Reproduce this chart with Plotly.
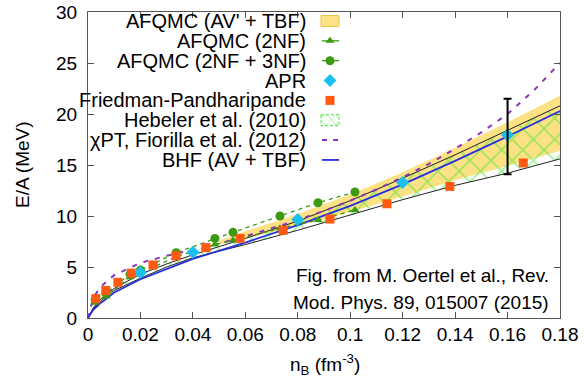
import plotly.graph_objects as go

# ---------------- data ----------------
# AFQMC (AV' + TBF) band
n_band = [0.05, 0.06, 0.08, 0.10, 0.12, 0.14, 0.16, 0.18]
E_band_low = [7.2, 7.8, 9.0, 10.4, 11.9, 13.5, 14.9, 16.4]
E_band_high = [7.6, 8.5, 10.2, 12.1, 14.3, 16.7, 19.2, 21.8]

# Hebeler et al. (2010) band
n_heb = [0, 0.002, 0.005, 0.01, 0.02, 0.03, 0.04, 0.06, 0.08, 0.10, 0.12, 0.14, 0.16, 0.18]
E_heb_low = [0, 0.9, 1.7, 2.7, 3.9, 5.0, 5.9, 7.2, 8.6, 10.1, 11.6, 13.0, 14.2, 15.6]
E_heb_high = [0, 1.0, 1.9, 2.9, 4.3, 5.3, 6.2, 7.8, 9.5, 11.5, 13.7, 16.0, 18.4, 20.8]

# chiPT, Fiorilla et al. (2012)
n_chipt = [0, 0.002, 0.005, 0.01, 0.02, 0.03, 0.04, 0.05, 0.06, 0.07, 0.08, 0.09,
           0.10, 0.11, 0.12, 0.13, 0.14, 0.15, 0.16, 0.17, 0.18]
E_chipt = [0, 2.0, 3.1, 4.2, 5.4, 6.1, 6.7, 7.3, 8.0, 8.8, 9.6, 10.5,
           11.5, 12.6, 13.8, 15.1, 16.6, 18.2, 20.0, 22.3, 25.0]

# BHF (AV + TBF)
n_bhf = [0, 0.002, 0.005, 0.01, 0.02, 0.03, 0.04, 0.06, 0.08, 0.10, 0.12, 0.14, 0.16, 0.18]
E_bhf = [0, 0.8, 1.5, 2.5, 3.8, 4.8, 5.8, 7.4, 9.1, 11.0, 13.1, 15.4, 17.8, 20.3]

# AFQMC (2NF) and AFQMC (2NF + 3NF)
n_afqmc = [0.0027, 0.0069, 0.016, 0.020, 0.0336, 0.0484, 0.0553, 0.0732, 0.0877, 0.1018]
E_2nf = [1.5, 2.1, 4.0, 4.4, 6.0, 7.2, 7.6, 8.8, 9.6, 10.6]
E_3nf = [1.8, 2.4, 4.3, 4.7, 6.4, 7.8, 8.4, 10.0, 11.3, 12.35]

# APR
n_apr = [0.02, 0.04, 0.08, 0.12, 0.16]
E_apr = [4.45, 6.45, 9.65, 13.29, 17.94]

# Friedman-Pandharipande
n_fp = [0.003, 0.0068, 0.0114, 0.0165, 0.0248, 0.0336, 0.045, 0.058, 0.0744, 0.0923, 0.114, 0.138, 0.166]
E_fp = [1.9, 2.7, 3.5, 4.4, 5.2, 6.1, 6.9, 7.8, 8.6, 9.7, 11.2, 12.9, 15.2]

# error bar at saturation density
n_err = [0.16]
E_err_low = [14.1]
E_err_high = [21.5]

legend_labels = ["AFQMC (AV' + TBF)", "AFQMC (2NF)", "AFQMC (2NF + 3NF)", "APR",
                 "Friedman-Pandharipande", "Hebeler et al. (2010)",
                 "χPT, Fiorilla et al. (2012)", "BHF (AV + TBF)"]

x_ticks = [0, 0.02, 0.04, 0.06, 0.08, 0.1, 0.12, 0.14, 0.16, 0.18]
x_ticklabels = ["0", "0.02", "0.04", "0.06", "0.08", "0.1", "0.12", "0.14", "0.16", "0.18"]
y_ticks = [0, 5, 10, 15, 20, 25, 30]

# ---------------- styling / layout ----------------
FONT = "Liberation Sans, Arial, Helvetica, sans-serif"
FS = 19
FS_LEG = 20
W, H = 584, 384
ML, MR, MT, MB = 88, 24, 12, 66
PW, PH = W - ML - MR, H - MT - MB

def fx(px):                   # reference-pixel x -> plot fraction
    return (px - ML) / PW

def fy(py):                   # reference-pixel y -> plot fraction
    return (H - MB - py) / PH

GREEN = "#3c9a12"
CYAN = "#1cc0f0"
ORANGE = "#ff5a10"
HATCH = "#3de62e"
PURPLE = "#8a35b8"
BLUE = "#2630e0"
YELLOW = "rgba(252,224,125,0.95)"
YELLOW_EDGE = "#e8c44a"

fig = go.Figure()

# AFQMC AV'+TBF band
fig.add_trace(go.Scatter(x=n_band, y=E_band_low, mode="lines", line=dict(width=0),
                         showlegend=False, hoverinfo="skip"))
fig.add_trace(go.Scatter(x=n_band, y=E_band_high, mode="lines", line=dict(width=0),
                         fill="tonexty", fillcolor=YELLOW, showlegend=False))

# Hebeler band (hatched) with black boundaries
fig.add_trace(go.Scatter(x=n_heb, y=E_heb_low, mode="lines",
                         line=dict(color="#222222", width=1), showlegend=False))
fig.add_trace(go.Scatter(x=n_heb, y=E_heb_high, mode="lines",
                         line=dict(color="#222222", width=1), fill="tonexty",
                         fillcolor="rgba(0,0,0,0)",
                         fillpattern=dict(shape="x", fgcolor=HATCH, bgcolor="rgba(0,0,0,0)",
                                          size=15, solidity=0.2),
                         showlegend=False))

# chiPT
fig.add_trace(go.Scatter(x=n_chipt, y=E_chipt, mode="lines",
                         line=dict(color=PURPLE, width=2, dash="5px,7px"), showlegend=False))
# BHF
fig.add_trace(go.Scatter(x=n_bhf, y=E_bhf, mode="lines",
                         line=dict(color=BLUE, width=1.8), showlegend=False))

# AFQMC 2NF and 2NF+3NF
fig.add_trace(go.Scatter(x=n_afqmc, y=E_2nf, mode="lines+markers",
                         line=dict(color=GREEN, width=1.3, dash="4px,4px"),
                         marker=dict(symbol="triangle-up", size=8, color=GREEN),
                         showlegend=False))
fig.add_trace(go.Scatter(x=n_afqmc, y=E_3nf, mode="lines+markers",
                         line=dict(color=GREEN, width=1.3, dash="4px,4px"),
                         marker=dict(symbol="circle", size=9, color=GREEN),
                         showlegend=False))

# APR
fig.add_trace(go.Scatter(x=n_apr, y=E_apr, mode="markers",
                         marker=dict(symbol="diamond", size=10, color=CYAN), showlegend=False))
# FP
fig.add_trace(go.Scatter(x=n_fp, y=E_fp, mode="markers",
                         marker=dict(symbol="square", size=9, color=ORANGE), showlegend=False))

# error bar
err_mid = [(a + b) / 2 for a, b in zip(E_err_low, E_err_high)]
err_half = [(b - a) / 2 for a, b in zip(E_err_low, E_err_high)]
fig.add_trace(go.Scatter(x=n_err, y=err_mid, mode="markers",
                         marker=dict(size=1, color="rgba(0,0,0,0)"),
                         error_y=dict(type="data", array=err_half, color="black",
                                      thickness=2, width=4),
                         showlegend=False))

# ---------------- custom legend (text left, key right) ----------------
rows = [21 + 19.85 * i for i in range(len(legend_labels))]
KX0, KXC, KX1 = 322, 330, 338
ov = dict(xaxis="x2", yaxis="y2", showlegend=False, hoverinfo="skip")

def key_line(r, color, width, dash="solid"):
    fig.add_trace(go.Scatter(x=[fx(KX0), fx(KX1 + 1)], y=[fy(r), fy(r)], mode="lines",
                             line=dict(color=color, width=width, dash=dash), **ov))

def key_marker(r, symbol, size, color):
    fig.add_trace(go.Scatter(x=[fx(KXC)], y=[fy(r)], mode="markers",
                             marker=dict(symbol=symbol, size=size, color=color), **ov))

def key_box(r, **kw):
    x0, x1, h = fx(KX0 - 1), fx(KX1 + 1), 5.5
    fig.add_trace(go.Scatter(x=[x0, x1, x1, x0, x0],
                             y=[fy(r - h), fy(r - h), fy(r + h), fy(r + h), fy(r - h)],
                             mode="lines", fill="toself", **kw, **ov))

key_box(rows[0], fillcolor=YELLOW, line=dict(color=YELLOW_EDGE, width=1))
key_line(rows[1], GREEN, 1.3)
key_marker(rows[1], "triangle-up", 8, GREEN)
key_line(rows[2], GREEN, 1.3)
key_marker(rows[2], "circle", 9, GREEN)
key_marker(rows[3], "diamond", 10, CYAN)
key_marker(rows[4], "square", 9, ORANGE)
key_box(rows[5], fillcolor="rgba(0,0,0,0)", line=dict(color=HATCH, width=1, dash="3px,2px"),
        fillpattern=dict(shape="x", fgcolor=HATCH, bgcolor="rgba(0,0,0,0)", size=8, solidity=0.2))
key_line(rows[6], PURPLE, 2, "5px,6px")
key_line(rows[7], BLUE, 1.8)

annotations = []
for lab, r in zip(legend_labels, rows):
    annotations.append(dict(text=lab, x=fx(308), y=fy(r), xref="paper", yref="paper",
                            xanchor="right", yanchor="middle", showarrow=False,
                            font=dict(family=FONT, size=FS_LEG, color="black")))

# source text
annotations.append(dict(text="Fig. from M. Oertel et al., Rev.", x=fx(551), y=fy(275),
                        xref="paper", yref="paper", xanchor="right", yanchor="middle",
                        showarrow=False, font=dict(family=FONT, size=FS, color="black")))
annotations.append(dict(text="Mod. Phys. 89, 015007 (2015)", x=fx(551), y=fy(302),
                        xref="paper", yref="paper", xanchor="right", yanchor="middle",
                        showarrow=False, font=dict(family=FONT, size=FS, color="black")))

# axis titles
annotations.append(dict(text="E/A (MeV)", x=fx(22), y=0.5, xref="paper", yref="paper",
                        textangle=-90, xanchor="center", yanchor="middle", showarrow=False,
                        font=dict(family=FONT, size=FS, color="black")))
annotations.append(dict(text="n<sub>B</sub> (fm<sup>-3</sup>)", x=fx(325), y=fy(365),
                        xref="paper", yref="paper", xanchor="center", yanchor="middle",
                        showarrow=False, font=dict(family=FONT, size=FS, color="black")))

axis_common = dict(showgrid=False, zeroline=False, showline=True, linecolor="#555555",
                   linewidth=1, ticks="inside", ticklen=6, tickcolor="#555555",
                   mirror="allticks", tickfont=dict(family=FONT, size=FS, color="black"))

fig.update_layout(
    width=W, height=H,
    margin=dict(l=ML, r=MR, t=MT, b=MB, autoexpand=False),
    paper_bgcolor="white", plot_bgcolor="white",
    showlegend=False,
    annotations=annotations,
    xaxis=dict(range=[0, 0.18], tickvals=x_ticks, ticktext=x_ticklabels,
               ticklabelstandoff=-1, **axis_common),
    yaxis=dict(range=[0, 30], tickvals=y_ticks, ticklabelstandoff=6, **axis_common),
    xaxis2=dict(overlaying="x", anchor="y", range=[0, 1], visible=False),
    yaxis2=dict(overlaying="y", anchor="x", range=[0, 1], visible=False),
)

# remove the default 8 px page margin so the figure sits at the window origin
fig.write_html("out.html",
               config={"displayModeBar": False},
               post_script="document.body.style.margin='0';document.body.style.overflow='hidden';")
